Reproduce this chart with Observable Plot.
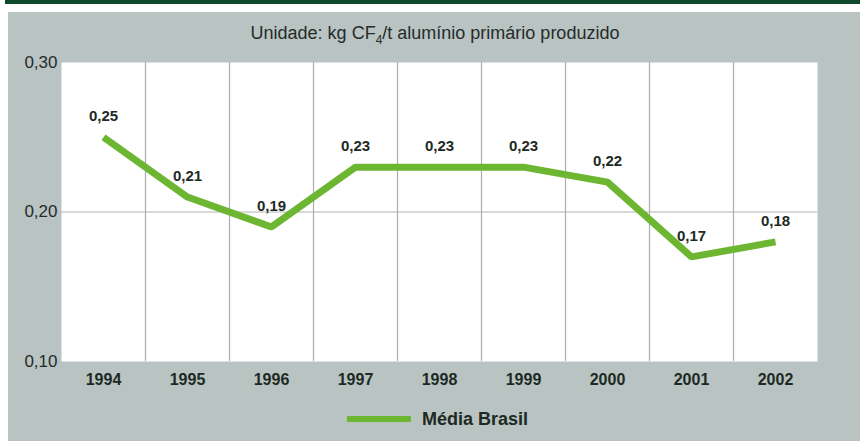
<!DOCTYPE html>
<html>
<head>
<meta charset="utf-8">
<script src="https://cdn.jsdelivr.net/npm/d3@7"></script>
<script src="https://cdn.jsdelivr.net/npm/@observablehq/plot@0.6"></script>
<style>
  html, body { margin: 0; padding: 0; background: #ffffff; width: 860px; height: 441px; overflow: hidden; }
  body { position: relative; font-family: "Liberation Sans", Arial, Helvetica, sans-serif; }
  #topbar { position: absolute; left: 5px; top: 0; width: 855px; height: 4px; background: #0e4a2b; }
  #panel { position: absolute; left: 8px; top: 12px; width: 852px; height: 429px; background: #b8c3c2; }
  #title { position: absolute; left: 0; width: 870px; top: 22px; text-align: center; font-size: 18px; color: #262b2a; line-height: 22px; }
  #title sub { font-size: 12px; vertical-align: -5px; line-height: 0; }
  #chart { position: absolute; left: 0; top: 40px; }
  #legend { position: absolute; left: 347px; top: 408px; height: 22px; display: flex; align-items: center; }
  #legend .swatch { width: 64px; height: 6px; background: #6cb631; margin-right: 11px; }
  #legend .label { font-size: 18px; font-weight: bold; color: #1d2a23; }
</style>
</head>
<body>
<div id="topbar"></div>
<div id="panel"></div>
<div id="title">Unidade: kg CF<sub>4</sub>/t alumínio primário produzido</div>
<div id="chart"></div>
<div id="legend"><div class="swatch"></div><div class="label" id="legendLabel"></div></div>
<script>
const years = [1994, 1995, 1996, 1997, 1998, 1999, 2000, 2001, 2002];
const values = [0.25, 0.21, 0.19, 0.23, 0.23, 0.23, 0.22, 0.17, 0.18];
const yTicks = [0.10, 0.20, 0.30];
const seriesName = "Média Brasil";

document.getElementById("legendLabel").textContent = seriesName;

const data = years.map((year, i) => ({year, value: values[i]}));
const fmt = v => v.toFixed(2).replace(".", ",");

const chart = Plot.plot({
  width: 860,
  height: 360,
  marginTop: 22,
  marginBottom: 39,
  marginLeft: 61,
  marginRight: 43,
  style: {background: "transparent", fontFamily: "'Liberation Sans', Arial, Helvetica, sans-serif", color: "#262b2a"},
  x: {domain: [years[0] - 0.5, years[years.length - 1] + 0.5], label: null},
  y: {domain: [yTicks[0], yTicks[yTicks.length - 1]], label: null},
  marks: [
    Plot.frame({fill: "#ffffff", stroke: null}),
    Plot.ruleX(years.slice(1), {x: d => d - 0.5, stroke: "#acacac", strokeWidth: 1.2}),
    Plot.ruleY([yTicks[1]], {stroke: "#b4b4b4", strokeWidth: 1.2}),
    Plot.axisY({ticks: yTicks, tickFormat: fmt, tickSize: 0, tickPadding: 4, fontSize: 17, label: null}),
    Plot.axisX({ticks: years, tickFormat: d => String(d), tickSize: 0, tickPadding: 12, fontSize: 16, fontWeight: "bold", label: null, fill: "#1d2a23"}),
    Plot.line(data, {x: "year", y: "value", stroke: "#6cb631", strokeWidth: 7, strokeLinejoin: "miter", strokeLinecap: "butt"}),
    Plot.text(data, {x: "year", y: "value", text: d => fmt(d.value), dy: -21, fontSize: 15, fontWeight: "bold", fill: "#1d2a23"})
  ]
});
document.getElementById("chart").appendChild(chart);
</script>
</body>
</html>
